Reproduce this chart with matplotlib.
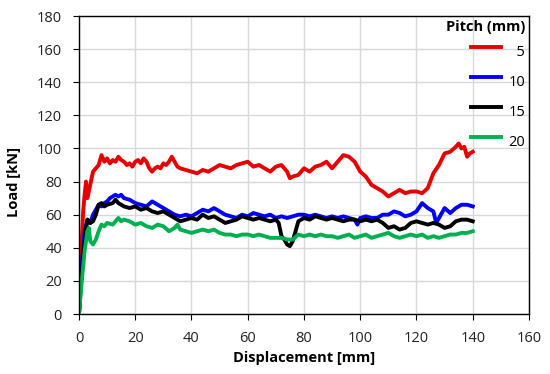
import numpy as np
import matplotlib
matplotlib.use("Agg")
import matplotlib.pyplot as plt

plt.rcParams['font.family'] = ['Open Sans', 'DejaVu Sans']

# pitch 5 mm
x5 = [0, 0.5, 1, 1.5, 2, 2.5, 3, 4, 5, 6, 7, 8, 9, 10, 11, 12, 13, 14, 15, 16, 17, 18, 19, 20,
      21, 22, 23, 24, 25, 26, 27, 28, 29, 30, 31, 32, 33, 34, 35, 36, 38, 40, 42, 44, 46, 48, 50,
      52, 54, 56, 58, 60, 62, 64, 66, 68, 70, 72, 74, 75, 76, 78, 80, 82, 84, 86, 88, 90, 92, 94,
      96, 98, 100, 102, 104, 106, 108, 110, 112, 114, 116, 118, 120, 122, 124, 126, 128, 130, 132,
      134, 135, 136, 137, 138, 139, 140]
y5 = [0, 20, 45, 62, 72, 80, 70, 78, 86, 88, 90, 96, 92, 94, 91, 93, 92, 95, 93, 92, 90, 91, 89, 92,
      93, 91, 94, 92, 88, 86, 88, 89, 88, 91, 90, 92, 95, 92, 89, 88, 87, 86, 85, 87, 86, 88, 90,
      89, 88, 90, 91, 92, 89, 90, 88, 86, 89, 90, 86, 82, 83, 84, 88, 86, 89, 90, 92, 88, 92, 96,
      95, 92, 86, 83, 78, 76, 74, 71, 73, 75, 73, 74, 74, 73, 76, 85, 90, 97, 98,
      101, 103, 100, 101, 95, 97, 98]

# pitch 10 mm
x10 = [0, 1, 2, 3, 4, 5, 6, 7, 8, 9, 10, 11, 12, 13, 14, 15, 16, 18, 20, 22, 24, 26, 28, 30, 32,
       34, 36, 38, 40, 42, 44, 46, 48, 50, 52, 54, 56, 58, 60, 62, 64, 66, 68, 70, 72, 74, 76, 78,
       80, 82, 84, 86, 88, 90, 92, 94, 96, 98, 99, 100, 102, 104, 106, 108, 110, 112, 114, 116,
       118, 120, 122, 124, 126, 127, 128, 130, 132, 134, 136, 138, 140]
y10 = [0, 30, 50, 57, 55, 60, 63, 66, 65, 67, 68, 70, 71, 72, 71, 72, 70, 69, 67, 66, 65, 68, 66, 64, 62,
       60, 59, 60, 59, 61, 63, 62, 64, 62, 60, 59, 58, 60, 59, 61, 60, 59, 60, 58, 59, 58, 59, 60,
       60, 59, 60, 59, 58, 59, 58, 59, 58, 57, 54, 58, 59, 58, 58, 60, 60, 62, 61, 59,
       60, 62, 67, 64, 62, 55, 58, 64, 61, 64, 66, 66, 65]

# pitch 15 mm
x15 = [0, 1, 2, 3, 4, 5, 6, 7, 8, 9, 10, 12, 13, 14, 16, 18, 20, 22, 24, 26, 28, 30, 32, 34, 36, 38,
       40, 42, 44, 46, 48, 50, 52, 54, 56, 58, 60, 62, 64, 66, 68, 70, 71, 72, 73, 74, 75, 76, 77,
       78, 80, 82, 84, 86, 88, 90, 92, 94, 96, 98, 100, 102, 104, 106, 108, 110, 112, 114, 116,
       118, 120, 122, 124, 126, 128, 130, 132, 134, 136, 138, 140]
y15 = [0, 25, 45, 57, 55, 56, 60, 66, 67, 65, 66, 67, 69, 67, 65, 64, 65, 63, 64, 62, 61, 62, 60, 58, 56, 57,
       58, 57, 60, 58, 59, 57, 55, 56, 57, 59, 58, 57, 58, 57, 56, 57, 55, 47, 45, 42, 41, 44, 50,
       56, 58, 57, 59, 58, 57, 58, 57, 56, 57, 57, 56, 57, 56, 57, 55, 52, 53, 51, 52,
       55, 56, 55, 54, 55, 54, 52, 53, 56, 57, 57, 56]

# pitch 20 mm
x20 = [0, 1, 2, 3, 3.5, 4, 5, 6, 7, 8, 9, 10, 12, 14, 15, 16, 18, 20, 22, 24, 26, 28, 30, 32, 34,
       35, 36, 38, 40, 42, 44, 46, 48, 50, 52, 54, 56, 58, 60, 62, 64, 66, 68, 70, 72, 74, 76, 78,
       80, 82, 84, 86, 88, 90, 92, 94, 96, 98, 100, 102, 104, 106, 108, 110, 112, 114, 116, 118,
       120, 122, 124, 126, 128, 130, 132, 134, 136, 138, 140]
y20 = [0, 20, 38, 50, 52, 44, 42, 45, 50, 54, 53, 55, 54, 58, 56, 57, 56, 54, 55, 53, 52, 54, 53, 50, 52,
       54, 51, 50, 49, 50, 51, 50, 51, 49, 48, 48, 47, 48, 48, 47, 48, 47, 46, 46, 46, 45, 45, 48,
       47, 48, 47, 48, 47, 47, 46, 47, 48, 46, 47, 48, 46, 47, 48, 49, 47, 46, 47, 48,
       47, 48, 46, 47, 46, 47, 48, 48, 49, 49, 50]

labels = ['5', '10', '15', '20']
colors = ['#e60000', '#0000ff', '#000000', '#00b050']

fig = plt.figure(figsize=(5.5, 3.74), dpi=100)
ax = fig.add_axes([0.1436, 0.1604, 0.8182, 0.7968])

for xs, ys, lab, c in zip([x5, x10, x15, x20], [y5, y10, y15, y20], labels, colors):
    # pad short labels with a figure space so they line up on the right
    ax.plot(xs, ys, color=c, lw=2.8, label=lab.rjust(2, '\u2007'), solid_joinstyle='round')

ax.set_xlim(0, 160)
ax.set_ylim(0, 180)
ax.set_xticks(np.arange(0, 161, 20))
ax.set_yticks(np.arange(0, 181, 20))
ax.grid(True, color='#d9d9d9', lw=1)
ax.set_axisbelow(True)
for s in ax.spines.values():
    s.set_color('black')
    s.set_linewidth(1)
ax.tick_params(labelsize=10.5, length=4.3, pad=8, color='black', labelcolor='#222222')

ax.set_xlabel('Displacement [mm]', fontsize=10.5, fontweight='bold')
ax.set_ylabel('Load [kN]', fontsize=10.5, fontweight='bold')
ax.xaxis.label.set_va('center')
ax.xaxis.set_label_coords(0.5, -0.148)
ax.yaxis.label.set_va('center')
ax.yaxis.set_label_coords(-0.144, 0.443)

leg = ax.legend(title='Pitch (mm)', loc='upper right', frameon=False, fontsize=10.5,
                handlelength=2.1, handleheight=2.25, labelspacing=0.35, handletextpad=0.5,
                borderpad=0.2, borderaxespad=0.05, alignment='right')
leg.get_title().set_fontweight('bold')
leg.get_title().set_fontsize(10.5)

plt.savefig('out.png', dpi=100)
